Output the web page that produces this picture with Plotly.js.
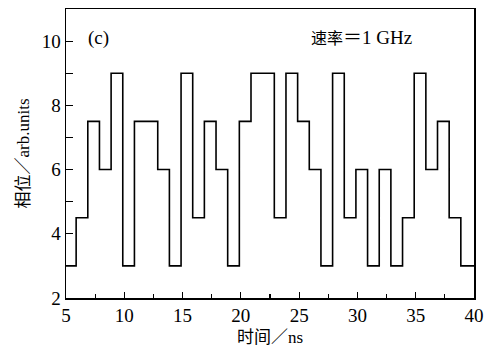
<!DOCTYPE html>
<html><head><meta charset="utf-8">
<script src="https://cdn.plot.ly/plotly-3.0.1.min.js"></script>
<style>html,body{margin:0;padding:0;background:#fff}#c{width:486px;height:360px}</style>
</head><body><div id="c"></div>
<script>
// step transition times (ns) and phase level held from each time
var times = [4.87,5.87,6.87,7.87,8.87,9.87,10.87,11.87,12.87,13.87,14.87,15.87,16.87,17.87,18.87,19.87,20.87,21.87,22.87,23.87,24.87,25.87,26.87,27.87,28.87,29.87,30.87,31.87,32.87,33.87,34.87,35.87,36.87,37.87,38.87,40];
var phase = [3,4.5,7.5,6,9,3,7.5,7.5,6,3,9,4.5,7.5,6,3,7.5,9,9,4.5,9,7.5,6,3,9,4.5,6,3,6,3,4.5,9,6,7.5,4.5,3,3];
var xTicks = [5,10,15,20,25,30,35,40];
var yTicks = [2,4,6,8,10];

var font = "'Liberation Serif','Times New Roman','Noto Sans CJK SC',serif";
var trace = {x: times, y: phase, mode: 'lines', line: {shape: 'hv', color: '#000', width: 1.6}, hoverinfo: 'skip'};
var layout = {
  width: 486, height: 360,
  margin: {l: 66, r: 12, t: 9, b: 62},
  paper_bgcolor: '#fff', plot_bgcolor: '#fff',
  showlegend: false,
  font: {family: font, size: 19, color: '#000'},
  xaxis: {range: [5, 40], tickvals: xTicks, ticks: 'inside', ticklen: 6, tickwidth: 1.2, tickcolor: '#000',
    showline: true, linecolor: '#000', linewidth: 1.5, mirror: true, showgrid: false, zeroline: false,
    tickfont: {family: font, size: 19},
    minor: {ticks: 'inside', dtick: 2.5, tick0: 5, ticklen: 4, tickwidth: 1.2, tickcolor: '#000', showgrid: false},
    title: {text: '时间／ns', font: {family: font, size: 17}, standoff: 6}},
  yaxis: {range: [2, 11], tickvals: yTicks, ticks: 'inside', ticklen: 7, tickwidth: 1.2, tickcolor: '#000',
    showline: true, linecolor: '#000', linewidth: 1.5, mirror: true, showgrid: false, zeroline: false,
    tickfont: {family: font, size: 19},
    minor: {ticks: 'inside', dtick: 1, tick0: 2, ticklen: 7, tickwidth: 1.2, tickcolor: '#000', showgrid: false},
    title: {text: '相位／arb.units', font: {family: font, size: 17}, standoff: 8}},
  annotations: [
    {xref: 'paper', yref: 'paper', x: 0.05, y: 0.9, text: '(c)', showarrow: false, xanchor: 'left', yanchor: 'middle', font: {family: font, size: 19}},
    {xref: 'paper', yref: 'paper', x: 0.595, y: 0.9, text: '<span style="font-size:16px">速率</span>＝1 GHz', showarrow: false, xanchor: 'left', yanchor: 'middle', font: {family: font, size: 19}}
  ]
};
Plotly.newPlot('c', [trace], layout, {displayModeBar: false, staticPlot: true});
</script></body></html>
